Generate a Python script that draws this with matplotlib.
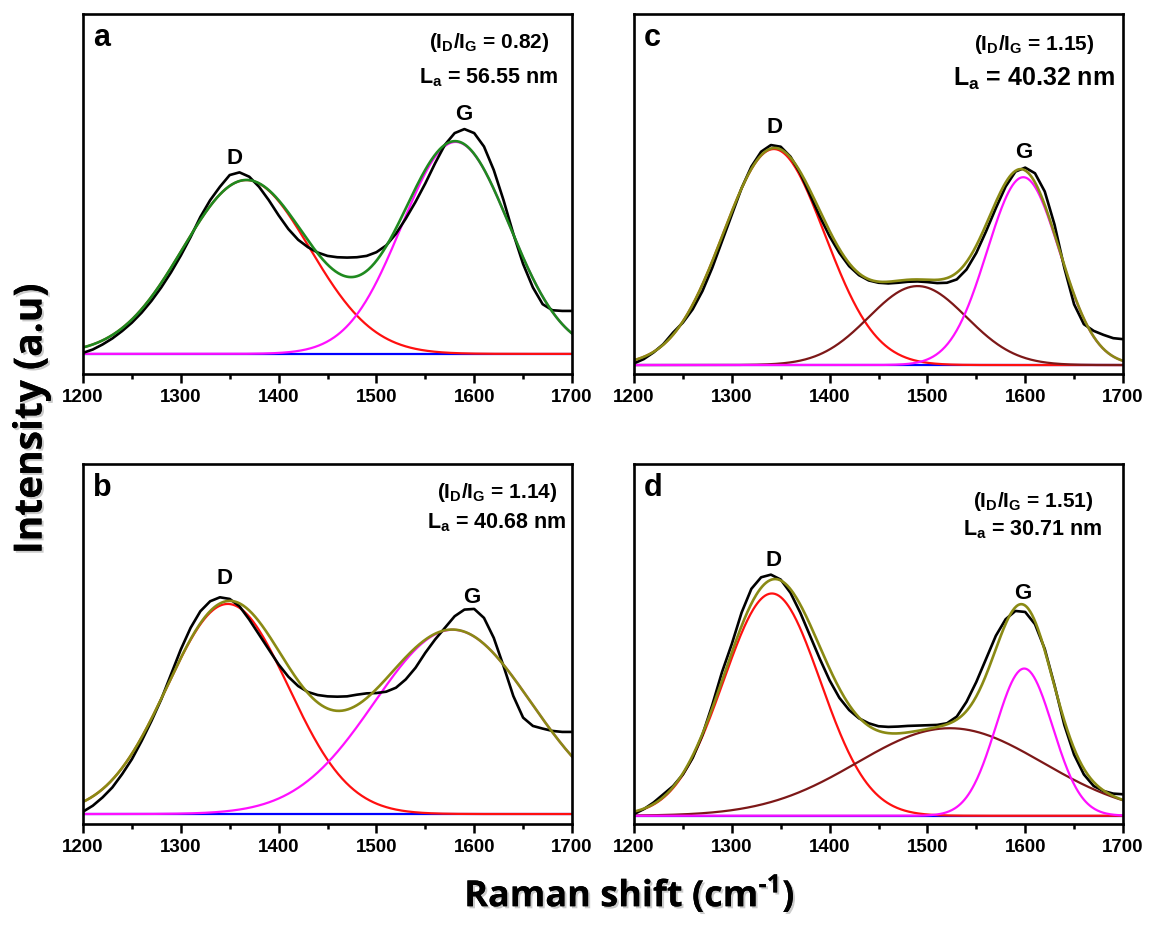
import matplotlib
matplotlib.use('Agg')
import matplotlib.pyplot as plt
import matplotlib.patheffects as pe
import numpy as np

plt.rcParams['font.family'] = 'Liberation Sans'
plt.rcParams['font.weight'] = 'bold'
plt.rcParams['mathtext.fontset'] = 'custom'
plt.rcParams['mathtext.sf'] = 'Liberation Sans:bold'
plt.rcParams['mathtext.rm'] = 'Open Sans:bold'

# measured spectra, sampled every 10 cm-1 from 1200 to 1700 (baseline-corrected, a.u.)
shift = np.arange(1200, 1701, 10)
spec_a = [3, 13, 28, 46, 68, 93, 123, 158, 198, 243,
          293, 348, 408, 458, 498, 533, 541, 528, 498, 458,
          413, 372, 340, 318, 302, 292, 288, 287, 288, 292,
          303, 323, 358, 403, 453, 508, 568, 623, 658, 670,
          658, 618, 548, 458, 358, 268, 198, 148, 130, 128, 128]
spec_b = [7, 25, 50, 80, 120, 165, 220, 280, 345, 420,
          495, 560, 610, 640, 652, 647, 625, 585, 540, 495,
          450, 413, 385, 367, 358, 354, 353, 354, 359, 363,
          364, 368, 380, 405, 440, 485, 525, 560, 595, 615,
          617, 590, 530, 445, 355, 290, 265, 257, 250, 247, 247]
spec_c = [5, 18, 38, 63, 98, 128, 168, 223, 293, 373,
          453, 533, 598, 643, 663, 658, 628, 578, 513, 448,
          388, 338, 298, 271, 255, 248, 246, 248, 251, 252,
          250, 247, 248, 258, 288, 338, 403, 473, 538, 583,
          595, 578, 523, 423, 293, 183, 123, 103, 91, 81, 78]
spec_d = [5, 20, 40, 65, 90, 125, 175, 245, 335, 435,
          520, 615, 687, 722, 730, 715, 675, 615, 545, 475,
          410, 357, 320, 295, 280, 271, 269, 270, 272, 273,
          274, 275, 280, 300, 345, 405, 475, 545, 595, 620,
          617, 580, 505, 395, 275, 185, 125, 90, 75, 67, 65]
spectra = [spec_a, spec_b, spec_c, spec_d]

# Gaussian fit parameters (order a, b, c, d)
panel_tags = ['a', 'b', 'c', 'd']
d_center = [1367, 1348, 1343, 1341]
d_height = [518, 632, 651, 673]
d_sigma = [65, 62, 52, 49.5]
g_center = [1581, 1578, 1598, 1599]
g_sigma = [55, 80, 37, 29]
id_ig = [0.82, 1.14, 1.15, 1.51]
la_nm = ['56.55', '40.68', '40.32', '30.71']
# extra amorphous band (only c and d)
a_center = [None, None, 1490, 1523]
a_height = [None, None, 238, 265]
a_sigma = [None, None, 50, 95]

# y-limits in the same units as the spectra
ylims = [(-60, 1013), (-30, 1053), (-27, 1058), (-25, 1065)]
fit_colors = ['#1f8a1f', '#8a8a14', '#8a8a14', '#8a8a14']

# label positions: (D x, D y, G x, G y)
peak_lbl = [(1355, 566, 1589, 696), (1345, 692, 1598, 635),
            (1344, 698, 1599, 625), (1343, 757, 1598, 657)]
# annotation positions in axes fraction: (x, y ratio line, y La line, La size)
ann_pos = [(0.83, 0.906, 0.808, 15.5), (0.847, 0.905, 0.822, 15.5),
           (0.818, 0.900, 0.800, 18), (0.816, 0.881, 0.803, 15.5)]

W, H = 1149, 925
boxes = {'a': (83, 14), 'c': (634, 14), 'b': (83, 464), 'd': (634, 464)}
bw, bh = 489, 360


def gauss(x, c, h, s):
    return h * np.exp(-(x - c) ** 2 / (2 * s ** 2))


fig = plt.figure(figsize=(W / 100, H / 100), dpi=100)
xf = np.linspace(1200, 1700, 501)

for i, tag in enumerate(panel_tags):
    left, top = boxes[tag]
    ax = fig.add_axes([left / W, 1 - (top + bh) / H, bw / W, bh / H])

    d_peak = gauss(xf, d_center[i], d_height[i], d_sigma[i])
    g_peak = gauss(xf, g_center[i], d_height[i] / id_ig[i], g_sigma[i])
    fit = d_peak + g_peak

    ax.plot(xf, np.zeros_like(xf), color='#0000ff', lw=1.6)
    ax.plot(xf, d_peak, color='#ff1010', lw=1.6)
    if a_center[i] is not None:
        a_peak = gauss(xf, a_center[i], a_height[i], a_sigma[i])
        fit = fit + a_peak
        ax.plot(xf, a_peak, color='#7d1818', lw=1.6)
    ax.plot(xf, g_peak, color='#ff10ff', lw=1.6)
    ax.plot(shift, spectra[i], color='black', lw=1.9)
    ax.plot(xf, fit, color=fit_colors[i], lw=1.9)

    ax.set_xlim(1200, 1700)
    ax.set_ylim(*ylims[i])
    ax.set_xticks(np.arange(1200, 1701, 100))
    ax.set_xticks(np.arange(1250, 1700, 100), minor=True)
    ax.set_yticks([])
    ax.tick_params(axis='x', which='major', direction='out', length=6.5,
                   width=1.8, labelsize=13.5, pad=4)
    ax.tick_params(axis='x', which='minor', direction='out', length=3.5, width=1.8)
    for sp in ax.spines.values():
        sp.set_linewidth(1.9)

    ax.text(0.02, 0.91, tag, transform=ax.transAxes, fontsize=22,
            fontweight='bold', va='baseline', ha='left')
    dx, dy, gx, gy = peak_lbl[i]
    ax.text(dx, dy, 'D', fontsize=16, fontweight='bold', ha='center', va='baseline')
    ax.text(gx, gy, 'G', fontsize=16, fontweight='bold', ha='center', va='baseline')

    px, py1, py2, la_size = ann_pos[i]
    ax.text(px, py1, r'(I$_\mathsf{D}$/I$_\mathsf{G}$ = %.2f)' % id_ig[i],
            transform=ax.transAxes, fontsize=15, fontweight='bold',
            ha='center', va='baseline')
    ax.text(px, py2, r'L$_\mathsf{a}$ = %s nm' % la_nm[i],
            transform=ax.transAxes, fontsize=la_size, fontweight='bold',
            ha='center', va='baseline')

shadow = [pe.withSimplePatchShadow(offset=(1.5, -1.5), shadow_rgbFace='0.55', alpha=0.45),
          pe.Normal()]
fig.text(0.548, 0.02, r'Raman shift (cm$^{\text{-1}}$)', fontfamily='Open Sans',
         fontweight='bold', fontsize=26, ha='center', va='baseline', path_effects=shadow)
fig.text(0.027, 0.547, 'Intensity (a.u)', fontfamily='Open Sans', fontweight='bold',
         fontsize=28, rotation=90, ha='center', va='center', path_effects=shadow)

fig.savefig('out.png', dpi=100)
